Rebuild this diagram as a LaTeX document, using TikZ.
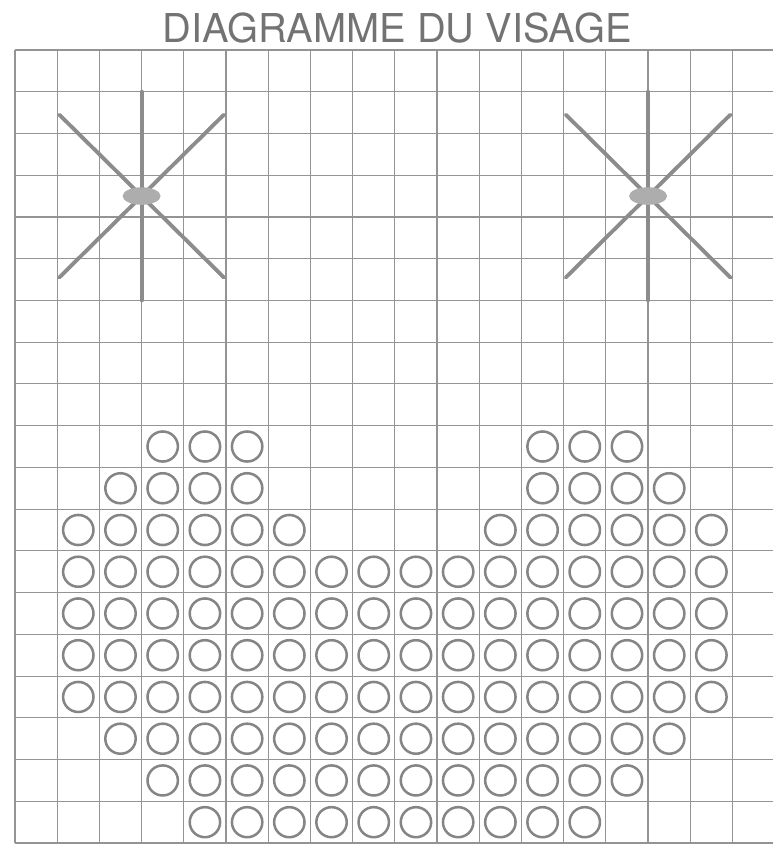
\documentclass[tikz,border=0pt]{standalone}
\usepackage{fontspec}
\newfontfamily\headfont{TeX Gyre Heros}

\begin{document}
\begin{tikzpicture}[x=1cm,y=.989cm,
  gridline/.style={draw=black!42,line width=.8pt},
  dot/.style={draw=black!48,line width=1.7pt},
  stitch/.style={draw=black!45,line width=2.6pt,line cap=round},
  knot/.style={fill=black!32,draw=none},
  headline/.style={anchor=base,text=black!55,font=\headfont\fontsize{26.8}{31}\selectfont}]
\useasboundingbox (-.355,-.19) rectangle (17.94,20.197);
\node[headline] (title) at (9.05,19.19) {DIAGRAMME DU VISAGE};
\draw[gridline] (0,0) -- (0,19);
\draw[gridline] (1,0) -- (1,19);
\draw[gridline] (2,0) -- (2,19);
\draw[gridline] (3,0) -- (3,19);
\draw[gridline] (4,0) -- (4,19);
\draw[gridline] (5,0) -- (5,19);
\draw[gridline] (6,0) -- (6,19);
\draw[gridline] (7,0) -- (7,19);
\draw[gridline] (8,0) -- (8,19);
\draw[gridline] (9,0) -- (9,19);
\draw[gridline] (10,0) -- (10,19);
\draw[gridline] (11,0) -- (11,19);
\draw[gridline] (12,0) -- (12,19);
\draw[gridline] (13,0) -- (13,19);
\draw[gridline] (14,0) -- (14,19);
\draw[gridline] (15,0) -- (15,19);
\draw[gridline] (16,0) -- (16,19);
\draw[gridline] (17,0) -- (17,19);
\draw[gridline] (18,0) -- (18,19);
\draw[gridline] (0,0) -- (18,0);
\draw[gridline] (0,1) -- (18,1);
\draw[gridline] (0,2) -- (18,2);
\draw[gridline] (0,3) -- (18,3);
\draw[gridline] (0,4) -- (18,4);
\draw[gridline] (0,5) -- (18,5);
\draw[gridline] (0,6) -- (18,6);
\draw[gridline] (0,7) -- (18,7);
\draw[gridline] (0,8) -- (18,8);
\draw[gridline] (0,9) -- (18,9);
\draw[gridline] (0,10) -- (18,10);
\draw[gridline] (0,11) -- (18,11);
\draw[gridline] (0,12) -- (18,12);
\draw[gridline] (0,13) -- (18,13);
\draw[gridline] (0,14) -- (18,14);
\draw[gridline] (0,15) -- (18,15);
\draw[gridline] (0,16) -- (18,16);
\draw[gridline] (0,17) -- (18,17);
\draw[gridline] (0,18) -- (18,18);
\draw[gridline] (0,19) -- (18,19);
\draw[stitch] (3,18) -- (3,13);
\draw[stitch] (1.05,17.45) -- (4.95,13.55);
\draw[stitch] (4.95,17.45) -- (1.05,13.55);
\path[knot] (3,15.5) ellipse (.45 and .21);
\draw[stitch] (15,18) -- (15,13);
\draw[stitch] (13.05,17.45) -- (16.95,13.55);
\draw[stitch] (16.95,17.45) -- (13.05,13.55);
\path[knot] (15,15.5) ellipse (.45 and .21);
\path[dot] (3.5,9.5) circle (.36) (4.5,9.5) circle (.36) (5.5,9.5) circle (.36)
  (12.5,9.5) circle (.36) (13.5,9.5) circle (.36) (14.5,9.5) circle (.36);
\path[dot] (2.5,8.5) circle (.36) (3.5,8.5) circle (.36) (4.5,8.5) circle (.36) (5.5,8.5) circle (.36)
  (12.5,8.5) circle (.36) (13.5,8.5) circle (.36) (14.5,8.5) circle (.36) (15.5,8.5) circle (.36);
\path[dot] (1.5,7.5) circle (.36) (2.5,7.5) circle (.36) (3.5,7.5) circle (.36) (4.5,7.5) circle (.36)
  (5.5,7.5) circle (.36) (6.5,7.5) circle (.36)
  (11.5,7.5) circle (.36) (12.5,7.5) circle (.36) (13.5,7.5) circle (.36) (14.5,7.5) circle (.36)
  (15.5,7.5) circle (.36) (16.5,7.5) circle (.36);
\path[dot] (1.5,6.5) circle (.36) (2.5,6.5) circle (.36) (3.5,6.5) circle (.36) (4.5,6.5) circle (.36)
  (5.5,6.5) circle (.36) (6.5,6.5) circle (.36) (7.5,6.5) circle (.36) (8.5,6.5) circle (.36)
  (9.5,6.5) circle (.36) (10.5,6.5) circle (.36) (11.5,6.5) circle (.36) (12.5,6.5) circle (.36)
  (13.5,6.5) circle (.36) (14.5,6.5) circle (.36) (15.5,6.5) circle (.36) (16.5,6.5) circle (.36);
\path[dot] (1.5,5.5) circle (.36) (2.5,5.5) circle (.36) (3.5,5.5) circle (.36) (4.5,5.5) circle (.36)
  (5.5,5.5) circle (.36) (6.5,5.5) circle (.36) (7.5,5.5) circle (.36) (8.5,5.5) circle (.36)
  (9.5,5.5) circle (.36) (10.5,5.5) circle (.36) (11.5,5.5) circle (.36) (12.5,5.5) circle (.36)
  (13.5,5.5) circle (.36) (14.5,5.5) circle (.36) (15.5,5.5) circle (.36) (16.5,5.5) circle (.36);
\path[dot] (1.5,4.5) circle (.36) (2.5,4.5) circle (.36) (3.5,4.5) circle (.36) (4.5,4.5) circle (.36)
  (5.5,4.5) circle (.36) (6.5,4.5) circle (.36) (7.5,4.5) circle (.36) (8.5,4.5) circle (.36)
  (9.5,4.5) circle (.36) (10.5,4.5) circle (.36) (11.5,4.5) circle (.36) (12.5,4.5) circle (.36)
  (13.5,4.5) circle (.36) (14.5,4.5) circle (.36) (15.5,4.5) circle (.36) (16.5,4.5) circle (.36);
\path[dot] (1.5,3.5) circle (.36) (2.5,3.5) circle (.36) (3.5,3.5) circle (.36) (4.5,3.5) circle (.36)
  (5.5,3.5) circle (.36) (6.5,3.5) circle (.36) (7.5,3.5) circle (.36) (8.5,3.5) circle (.36)
  (9.5,3.5) circle (.36) (10.5,3.5) circle (.36) (11.5,3.5) circle (.36) (12.5,3.5) circle (.36)
  (13.5,3.5) circle (.36) (14.5,3.5) circle (.36) (15.5,3.5) circle (.36) (16.5,3.5) circle (.36);
\path[dot] (2.5,2.5) circle (.36) (3.5,2.5) circle (.36) (4.5,2.5) circle (.36)
  (5.5,2.5) circle (.36) (6.5,2.5) circle (.36) (7.5,2.5) circle (.36) (8.5,2.5) circle (.36)
  (9.5,2.5) circle (.36) (10.5,2.5) circle (.36) (11.5,2.5) circle (.36) (12.5,2.5) circle (.36)
  (13.5,2.5) circle (.36) (14.5,2.5) circle (.36) (15.5,2.5) circle (.36);
\path[dot] (3.5,1.5) circle (.36) (4.5,1.5) circle (.36)
  (5.5,1.5) circle (.36) (6.5,1.5) circle (.36) (7.5,1.5) circle (.36) (8.5,1.5) circle (.36)
  (9.5,1.5) circle (.36) (10.5,1.5) circle (.36) (11.5,1.5) circle (.36) (12.5,1.5) circle (.36)
  (13.5,1.5) circle (.36) (14.5,1.5) circle (.36);
\path[dot] (4.5,0.5) circle (.36)
  (5.5,0.5) circle (.36) (6.5,0.5) circle (.36) (7.5,0.5) circle (.36) (8.5,0.5) circle (.36)
  (9.5,0.5) circle (.36) (10.5,0.5) circle (.36) (11.5,0.5) circle (.36) (12.5,0.5) circle (.36)
  (13.5,0.5) circle (.36);
\end{tikzpicture}
\end{document}
